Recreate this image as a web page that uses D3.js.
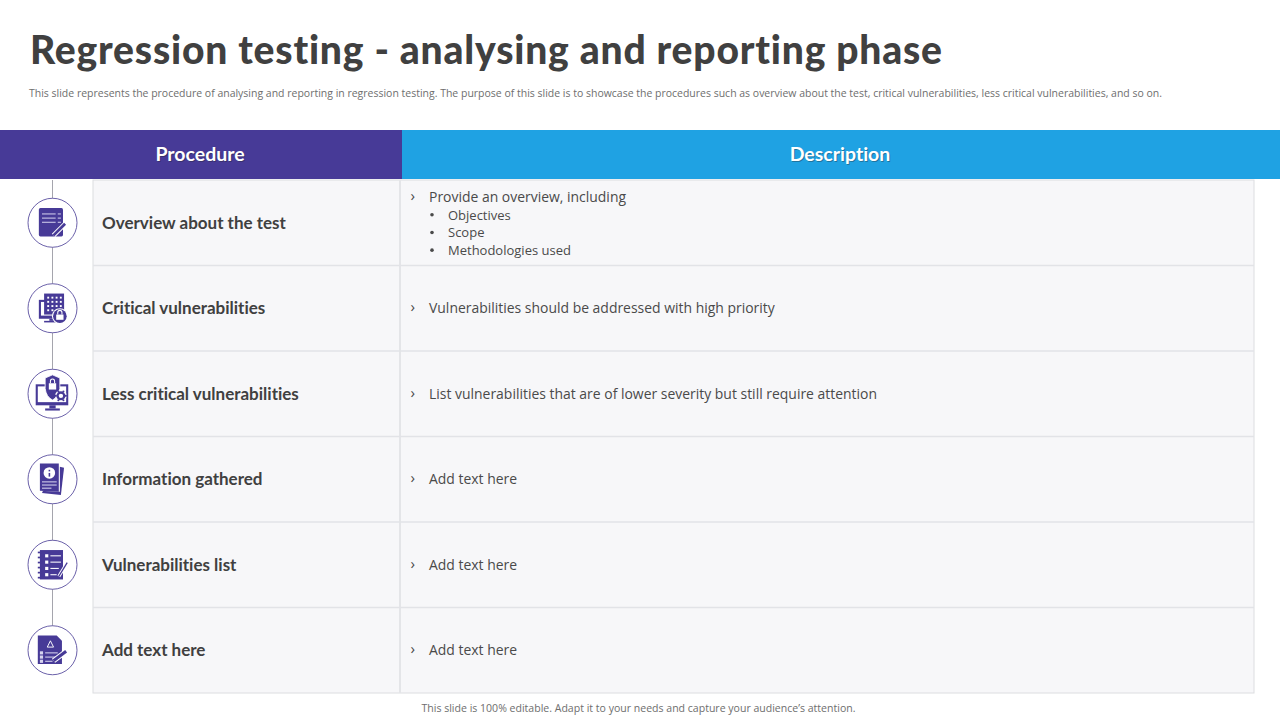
<!DOCTYPE html>
<html>
<head>
<meta charset="utf-8">
<script src="https://cdn.jsdelivr.net/npm/d3@7"></script>
<style>
  html, body { margin: 0; padding: 0; background: #fff; overflow: hidden; }
  svg { display: block; font-variant-ligatures: none; }
</style>
</head>
<body>
<div id="slide"></div>
<script>
var title_text = "Regression testing - analysing and reporting phase";
var subtitle_text = "This slide represents the procedure of analysing and reporting in regression testing. The purpose of this slide is to showcase the procedures such as overview about the test, critical vulnerabilities, less critical vulnerabilities, and so on.";
var footer_text = "This slide is 100% editable. Adapt it to your needs and capture your audience\u2019s attention.";
var headers = ["Procedure", "Description"];
var procedures = ["Overview about the test", "Critical vulnerabilities", "Less critical vulnerabilities", "Information gathered", "Vulnerabilities list", "Add text here"];
var descriptions = ["Provide an overview, including", "Vulnerabilities should be addressed with high priority", "List vulnerabilities that are of lower severity but still require attention", "Add text here", "Add text here", "Add text here"];
var sub_points = ["Objectives", "Scope", "Methodologies used"];
var icon_names = ["notes", "building", "monitor", "info", "list", "form"];

var purple = "#473a97", blue = "#1fa2e3", dark = "#404040", body_grey = "#4a4a4a";
var head_font = "Lato, 'Open Sans', sans-serif";
var body_font = "'Open Sans', 'Noto Sans', sans-serif";

var svg = d3.select("#slide").append("svg").attr("width", 1280).attr("height", 720);

var y = d3.scaleBand().domain(d3.range(procedures.length)).range([180, 693]);

// heading
svg.append("text").attr("x", 30).attr("y", 64)
  .attr("font-family", head_font).attr("font-weight", 900).attr("font-size", 39)
  .attr("fill", dark).attr("textLength", 912).attr("lengthAdjust", "spacing")
  .text(title_text);
svg.append("text").attr("x", 29).attr("y", 97)
  .attr("font-family", body_font).attr("font-size", 10.5)
  .attr("fill", "#6e6e6e").attr("textLength", 1133).attr("lengthAdjust", "spacingAndGlyphs")
  .text(subtitle_text);

// header bands
svg.append("rect").attr("x", 0).attr("y", 130).attr("width", 402).attr("height", 49).attr("fill", purple);
svg.append("rect").attr("x", 402).attr("y", 130).attr("width", 878).attr("height", 49).attr("fill", blue);
[[200, headers[0]], [840, headers[1]]].forEach(function(h){
  svg.append("text").attr("x", h[0] + 1).attr("y", 162).attr("text-anchor", "middle")
    .attr("font-family", head_font).attr("font-weight", 700).attr("font-size", 19.5)
    .attr("fill", "#222").attr("opacity", 0.35).text(h[1]);
  svg.append("text").attr("x", h[0]).attr("y", 161).attr("text-anchor", "middle")
    .attr("font-family", head_font).attr("font-weight", 700).attr("font-size", 19.5)
    .attr("fill", "#fff").text(h[1]);
});

// table
svg.append("rect").attr("x", 93).attr("y", 180).attr("width", 1161).attr("height", 513)
  .attr("fill", "#f7f7f9").attr("stroke", "#dcdde0").attr("stroke-width", 1);
svg.append("line").attr("x1", 400).attr("x2", 400).attr("y1", 180).attr("y2", 693)
  .attr("stroke", "#e4e5e8").attr("stroke-width", 2);
svg.selectAll(".row_line").data(d3.range(1, procedures.length)).enter().append("line")
  .attr("class", "row_line")
  .attr("x1", 93).attr("x2", 1254)
  .attr("y1", function(d){ return y(d); }).attr("y2", function(d){ return y(d); })
  .attr("stroke", "#e2e3e7").attr("stroke-width", 1.5);

// connector and circles
svg.append("line").attr("x1", 52.5).attr("x2", 52.5).attr("y1", 180).attr("y2", y(5) + 40)
  .attr("stroke", "#a5a5ad").attr("stroke-width", 1);

var rows = svg.selectAll(".row").data(procedures).enter().append("g")
  .attr("class", "row")
  .attr("transform", function(d, i){ return "translate(0," + (y(i) + y.bandwidth() / 2) + ")"; });

rows.append("circle").attr("cx", 52.5).attr("cy", 0).attr("r", 24.5)
  .attr("fill", "#fff").attr("stroke", "#5a4f9f").attr("stroke-width", 0.9);

rows.append("text").attr("x", 102).attr("y", 6)
  .attr("font-family", head_font).attr("font-weight", 700).attr("font-size", 17)
  .attr("fill", dark).text(function(d){ return d; });

// description rows, first one has the sub points
rows.append("text").attr("x", 410.5).attr("y", function(d, i){ return i == 0 ? -26 : 0; })
  .attr("dy", 4).attr("font-family", body_font).attr("font-size", 15).attr("fill", body_grey).text("\u203a");
rows.append("text").attr("x", 429).attr("y", function(d, i){ return i == 0 ? -26 : 0; })
  .attr("dy", 5).attr("font-family", body_font).attr("font-size", 13.95).attr("fill", body_grey)
  .text(function(d, i){ return descriptions[i]; });

var first = rows.filter(function(d, i){ return i == 0; });
sub_points.forEach(function(s, i){
  first.append("circle").attr("cx", 432).attr("cy", -8 + i * 17.7).attr("r", 1.8).attr("fill", body_grey);
  first.append("text").attr("x", 448).attr("y", -8 + i * 17.7).attr("dy", 5)
    .attr("font-family", body_font).attr("font-size", 13).attr("fill", body_grey).text(s);
});

// icons, each one is drawn around the middle of its circle
function bars(g, list, col){
  list.forEach(function(b){
    g.append("rect").attr("x", b[0]).attr("y", b[1]).attr("width", b[2]).attr("height", b[3]).attr("fill", col || "#fff");
  });
}
function pen(g, x, y_, len){
  g.append("line").attr("x1", x).attr("y1", y_).attr("x2", x + len).attr("y2", y_ - len)
    .attr("stroke", "#fff").attr("stroke-width", 4.5);
  g.append("line").attr("x1", x).attr("y1", y_).attr("x2", x + len).attr("y2", y_ - len)
    .attr("stroke", purple).attr("stroke-width", 2.6);
}
var draw_icon = {
  notes: function(g){
    g.append("rect").attr("x", -13).attr("y", -14).attr("width", 23).attr("height", 27).attr("rx", 1.5).attr("fill", purple);
    bars(g, [[-10, -9, 13, 1.2], [5, -9, 3, 1.2], [-10, -5, 13, 1.2], [5, -5, 3, 1.2], [-10, -1, 13, 1.2], [5, -1, 3, 1.2]], "#b9b4dd");
    pen(g, 1, 12, 11);
  },
  building: function(g){
    bars(g, [[-13, -8, 24, 18], [-3, 10, 6, 2], [-8, 12, 15, 1.5]], purple);
    bars(g, [[-11, -6, 20, 13]]);
    bars(g, [[-8, -14, 19, 20]], purple);
    bars(g, [-5, -1, 3, 7].reduce(function(a, c){
      [-11, -7, -3, 1].forEach(function(r){ a.push([c, r, 1.8, 1.8]); });
      return a;
    }, []));
    g.append("circle").attr("cx", 7).attr("cy", 7.5).attr("r", 7.5).attr("fill", "#fff");
    g.append("circle").attr("cx", 7).attr("cy", 7.5).attr("r", 6.5).attr("fill", purple);
    bars(g, [[3.5, 6, 7, 5]]);
    g.append("path").attr("d", "M5 6V4a2 2 0 0 1 4 0V6").attr("fill", "none").attr("stroke", "#fff").attr("stroke-width", 1);
  },
  monitor: function(g){
    bars(g, [[-16, -9, 31, 20], [-3, 11, 6, 3], [-7, 14, 14, 2]], purple);
    bars(g, [[-14, -7, 27, 15]]);
    g.append("path").attr("d", "M-7 -15L0 -18L7 -15V-5Q6 3 0 6Q-6 3 -7 -5Z").attr("fill", purple).attr("stroke", "#fff").attr("stroke-width", 0.8);
    bars(g, [[-3.5, -10, 7, 6]]);
    g.append("path").attr("d", "M-2 -10V-12a2 2 0 0 1 4 0V-10").attr("fill", "none").attr("stroke", "#fff").attr("stroke-width", 1);
    g.append("circle").attr("cx", 8).attr("cy", 2).attr("r", 5.5).attr("fill", "#fff");
    g.append("circle").attr("cx", 8).attr("cy", 2).attr("r", 3.2).attr("fill", "none").attr("stroke", purple).attr("stroke-width", 2.2);
    d3.range(6).forEach(function(k){
      var a = k * Math.PI / 3;
      g.append("circle").attr("cx", 8 + 4.8 * Math.cos(a)).attr("cy", 2 + 4.8 * Math.sin(a)).attr("r", 1).attr("fill", purple);
    });
  },
  info: function(g){
    g.append("path").attr("d", "M2 -13L11 -11L8 15L-10 13Z").attr("fill", purple);
    g.append("path").attr("d", "M-12 -14H7V12L-12 11Z").attr("fill", "#fff");
    g.append("path").attr("d", "M-12 -15H6V12L-12 11Z").attr("fill", purple);
    g.append("circle").attr("cx", -3).attr("cy", -6).attr("r", 5.5).attr("fill", "#fff");
    bars(g, [[-3.7, -6, 1.5, 3.5], [-3.7, -9, 1.5, 1.5]], purple);
    bars(g, [[-10, 2, 14, 1], [-10, 5, 14, 1], [-10, 8, 9, 1]], "#d6d3ee");
  },
  list: function(g){
    bars(g, [[-12, -14, 22, 28]], purple);
    d3.range(6).forEach(function(k){ bars(g, [[-14, -12.5 + k * 4.8, 4, 1.6]], purple); });
    bars(g, [[-7, -10, 3, 3], [-2, -9, 10, 1], [-7, -4, 3, 3], [-2, -3, 10, 1], [-7, 2, 3, 3], [-2, 3, 8, 1], [-7, 8, 3, 3], [-2, 9, 6, 1]]);
    g.append("line").attr("x1", 6).attr("y1", 11).attr("x2", 14).attr("y2", -2).attr("stroke", "#fff").attr("stroke-width", 3);
    g.append("line").attr("x1", 6).attr("y1", 11).attr("x2", 14).attr("y2", -2).attr("stroke", purple).attr("stroke-width", 1.2);
  },
  form: function(g){
    g.append("path").attr("d", "M-14 -14H4L9 -9V13H-14Z").attr("fill", purple);
    g.append("path").attr("d", "M-5 -3L-2 -9L1 -3Z").attr("fill", "none").attr("stroke", "#fff").attr("stroke-width", 0.9);
    bars(g, [[-12, 1, 3, 3], [-7, 2, 12, 1], [-12, 5, 3, 3], [-7, 6, 10, 1], [-12, 9, 3, 3], [-7, 10, 7, 1]], "#d6d3ee");
    g.append("line").attr("x1", 1).attr("y1", 10).attr("x2", 13).attr("y2", 1).attr("stroke", "#fff").attr("stroke-width", 5);
    g.append("line").attr("x1", 1).attr("y1", 10).attr("x2", 13).attr("y2", 1).attr("stroke", purple).attr("stroke-width", 3);
  }
};
rows.append("g").attr("transform", "translate(52.5,0) scale(1.05)").each(function(d, i){
  draw_icon[icon_names[i]](d3.select(this));
});

// footer
svg.append("text").attr("x", 638.5).attr("y", 712).attr("text-anchor", "middle")
  .attr("font-family", body_font).attr("font-size", 11)
  .attr("fill", "#6e6e6e").attr("textLength", 434).attr("lengthAdjust", "spacingAndGlyphs")
  .text(footer_text);
</script>
</body>
</html>
